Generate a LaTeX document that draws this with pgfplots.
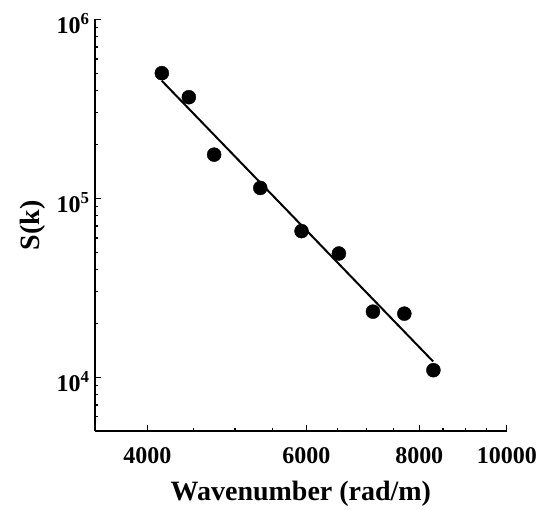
\documentclass[border=0pt]{standalone}
\usepackage{fontspec}
\setmainfont{Liberation Serif}
\usepackage{pgfplots}
\pgfplotsset{compat=1.18}
\begin{document}
\begin{tikzpicture}
\begin{loglogaxis}[
  scale only axis, width=412pt, height=412pt,
  xmin=3500, xmax=10000, ymin=5000, ymax=1e6,
  axis lines=left, axis line style={-, line width=1.5pt, black},
  tick align=inside,
  xtick={4000,6000,8000,10000}, xticklabels={4000,6000,8000,10000},
  minor xtick={3500,4500,5000,5500,6500,7000,7500,8500,9000,9500},
  ytick={1e4,1e5,1e6}, yticklabels={10\textsuperscript{4},10\textsuperscript{5},10\textsuperscript{6}},
  minor ytick={6000,7000,8000,9000,2e4,3e4,4e4,5e4,6e4,7e4,8e4,9e4,2e5,3e5,4e5,5e5,6e5,7e5,8e5,9e5},
  major tick length=6pt, minor tick length=3.5pt,
  every tick/.style={line width=1.2pt, black},
  ticklabel style={font=\fontsize{24}{28}\selectfont\bfseries},
  xticklabel style={yshift=-13pt},
  yticklabel style={xshift=-2pt, yshift=-4pt},
  label style={font=\fontsize{28}{32}\selectfont\bfseries},
  xlabel={Wavenumber (rad/m)}, ylabel={S(k)},
  xlabel style={yshift=-10pt},
  ylabel style={yshift=4pt},
  clip=false,
]
\addplot[only marks, mark=*, mark size=7pt, black] coordinates {
  (4150,5.00e5) (4446,3.67e5) (4742,1.752e5) (5334,1.142e5) (5926,6.55e4)
  (6518,4.91e4) (7110,2.324e4) (7702,2.265e4) (8294,1.094e4)
};
\addplot[black, line width=2pt, no marks] coordinates {
  (4150,4.53e5) (8290,1.223e4)
};
\end{loglogaxis}
\path ([xshift=-95pt,yshift=-70.3pt]current axis.south west) rectangle ([xshift=44.3pt,yshift=19.3pt]current axis.north east);
\end{tikzpicture}
\end{document}
